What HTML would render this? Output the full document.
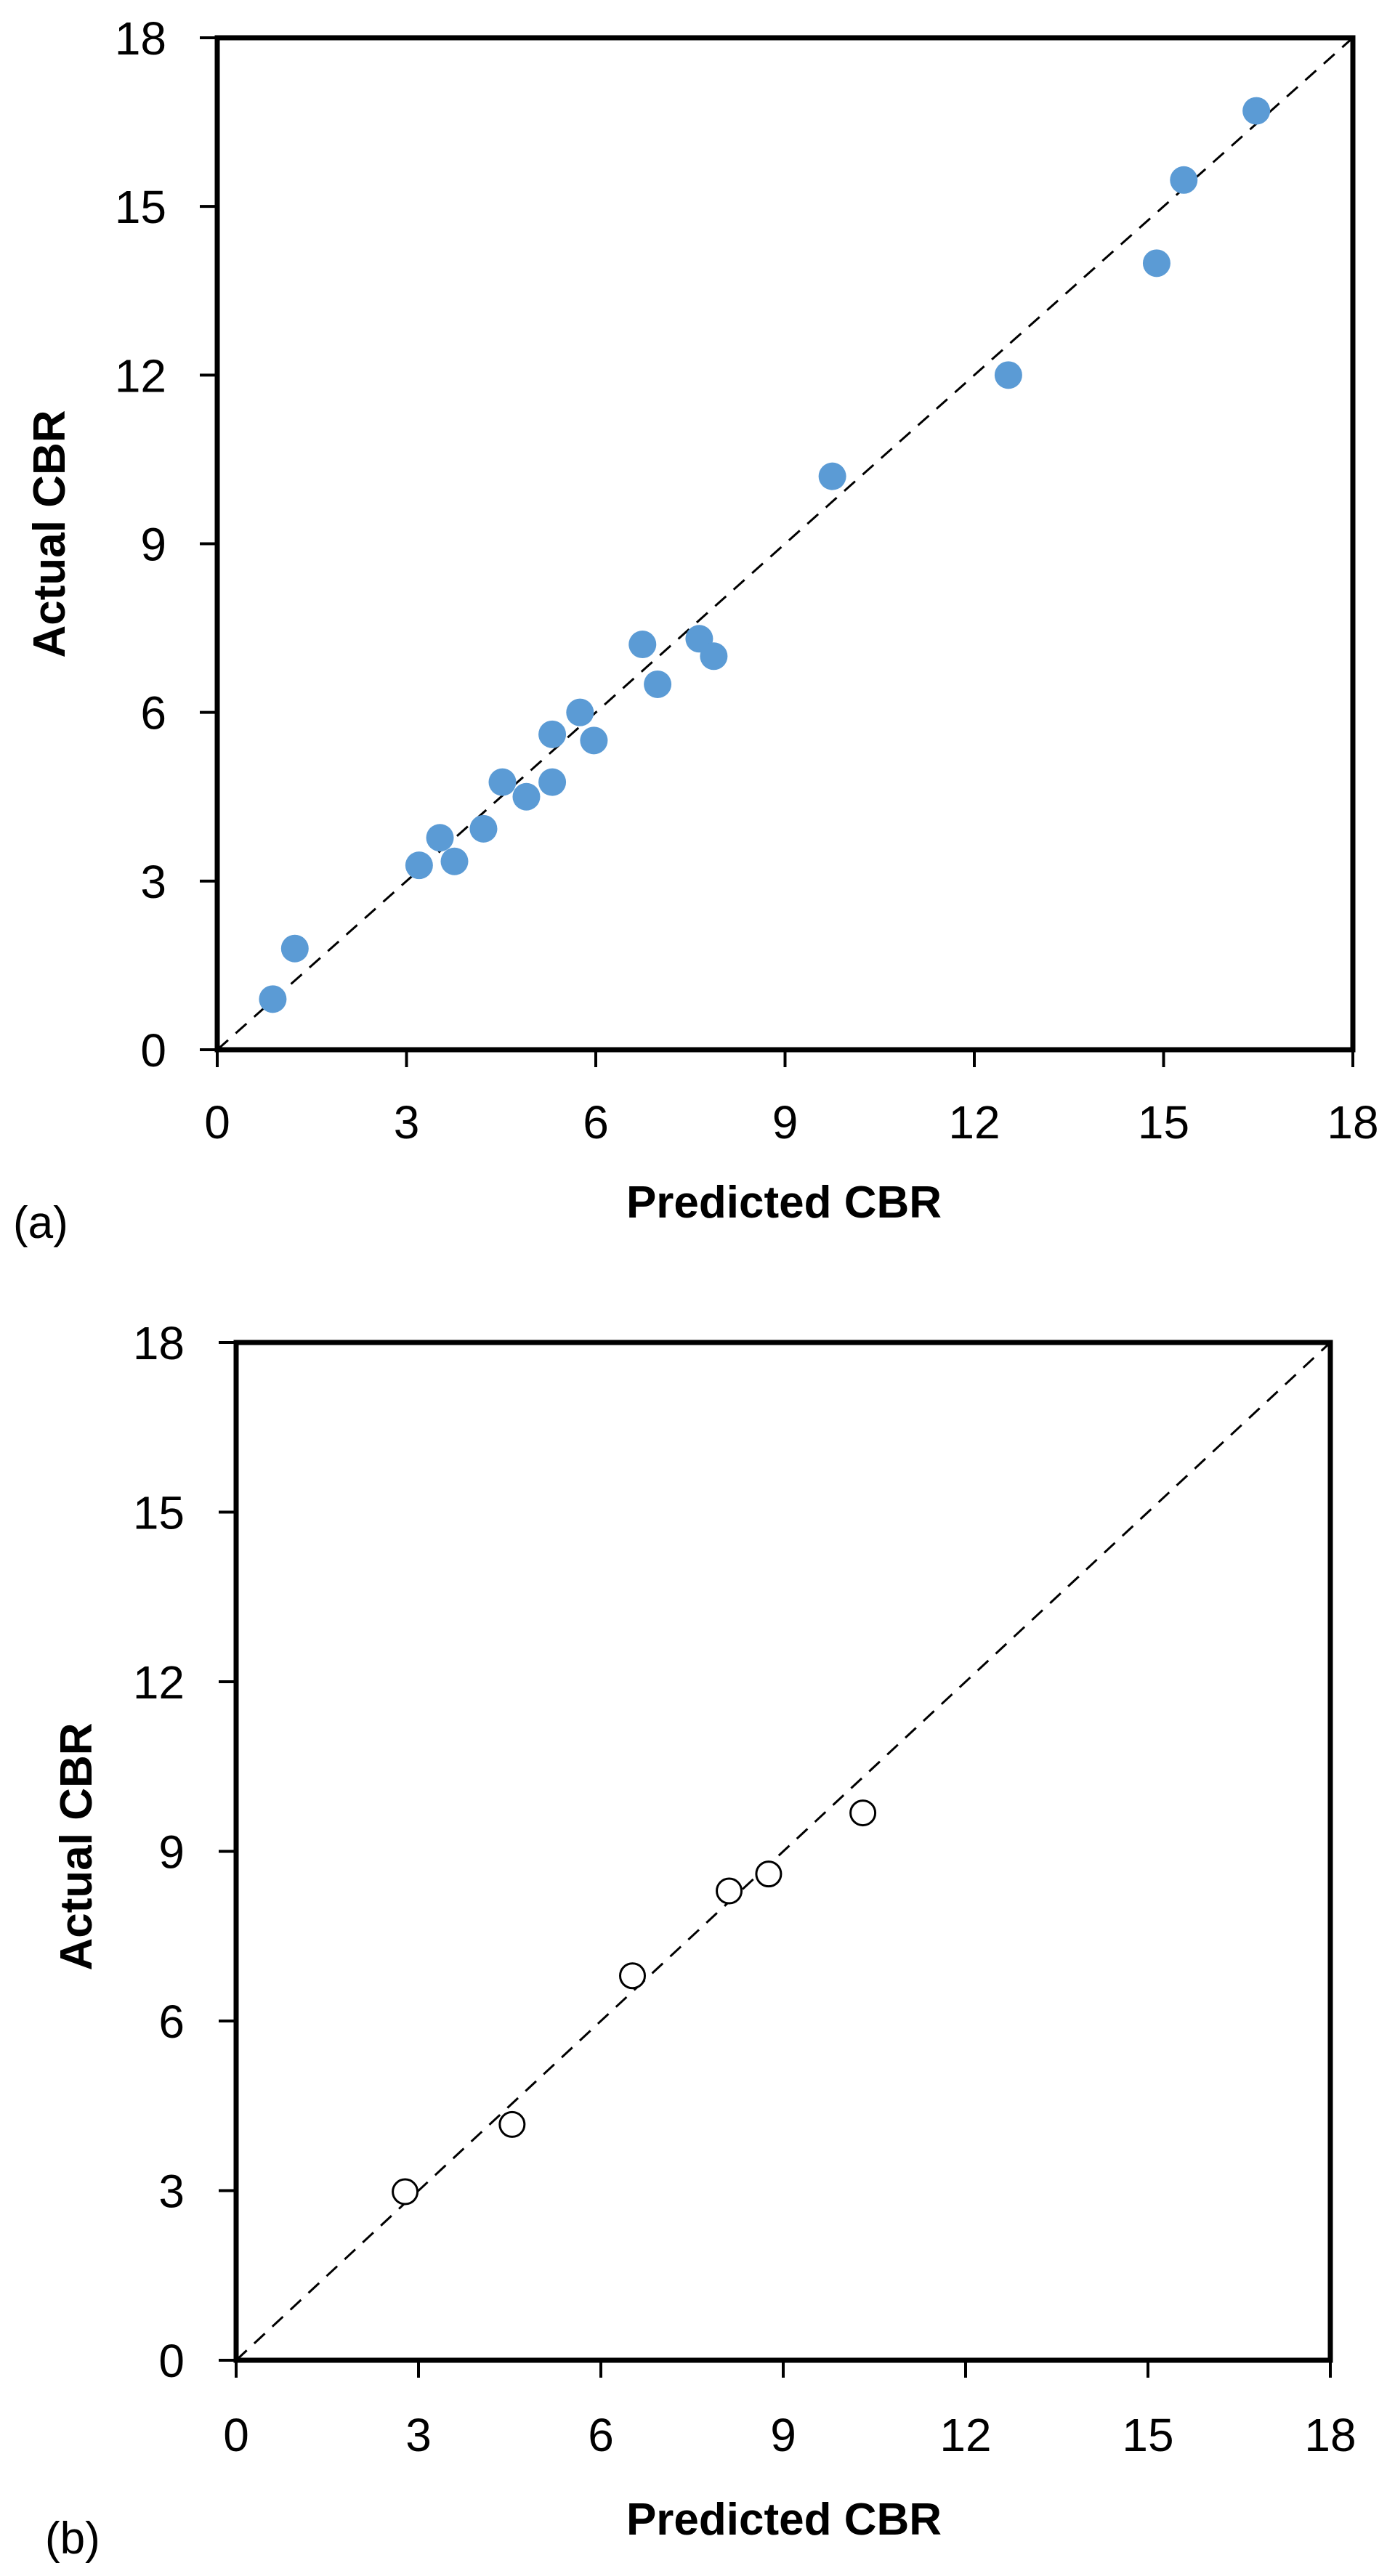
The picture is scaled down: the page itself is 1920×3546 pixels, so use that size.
<!DOCTYPE html>
<html><head><meta charset="utf-8"><style>
html,body{margin:0;padding:0;background:#fff;}
svg{display:block;}
text{font-family:"Liberation Sans",sans-serif;fill:#000;}
</style></head><body>
<svg id="fig" width="1920" height="3546" viewBox="0 0 1920 3546" xmlns="http://www.w3.org/2000/svg"></svg>
<script>
const ticks = [0,3,6,9,12,15,18];
const tickLabels = ["0","3","6","9","12","15","18"];
const predA = [0.88,1.23,3.2,3.53,3.76,4.22,4.52,4.9,5.31,5.31,5.75,5.97,6.74,6.98,7.64,7.87,9.75,12.54,14.89,15.32,16.47];
const actualA = [0.9,1.8,3.28,3.77,3.35,3.93,4.76,4.5,5.61,4.76,6.0,5.5,7.21,6.5,7.31,7.0,10.2,12.0,13.99,15.47,16.7];
const predB = [2.78,4.54,6.52,8.11,8.76,10.31];
const actualB = [2.98,4.17,6.8,8.3,8.6,9.68];

const NS="http://www.w3.org/2000/svg";
const svg=document.getElementById('fig');
function mk(tag,attrs,parent){const e=document.createElementNS(NS,tag);for(const k in attrs)e.setAttribute(k,attrs[k]);(parent||svg).appendChild(e);return e;}

function chart(cfg){
  const g=mk('g',{});
  
  
  const sx=v=>cfg.L+(cfg.R-cfg.L)*v/18;
  const sy=v=>cfg.B-(cfg.B-cfg.T)*v/18;
  // diagonal
  const d=mk('line',{x1:sx(0),y1:sy(0),x2:sx(18),y2:sy(18),stroke:'#000','stroke-width':3,'stroke-dasharray':'20,14'},g);
  
  
  // frame
  const f=mk('rect',{x:cfg.L,y:cfg.T,width:cfg.R-cfg.L,height:cfg.B-cfg.T,fill:'none',stroke:'#000','stroke-width':7},g);
  
  
  // ticks
  ticks.forEach((t,i)=>{
    const yt=mk('line',{x1:cfg.L-24,y1:sy(t),x2:cfg.L,y2:sy(t),stroke:'#000','stroke-width':4},g);
    
    
    const xt=mk('line',{x1:sx(t),y1:cfg.B,x2:sx(t),y2:cfg.B+24,stroke:'#000','stroke-width':4},g);
    
    
    const yl=mk('text',{x:cfg.yLabR,y:sy(t)+23,'text-anchor':'end','font-size':64},g);
    yl.textContent=tickLabels[i];
    
    
    const xl=mk('text',{x:sx(t),y:cfg.xLabY+23,'text-anchor':'middle','font-size':64},g);
    xl.textContent=tickLabels[i];
    
    
  });
  // points
  cfg.px.forEach((v,i)=>{
    const c=mk('circle',{cx:sx(v),cy:sy(cfg.py[i]),r:cfg.open?17:19,fill:cfg.open?'#fff':'#5b9bd5',stroke:cfg.open?'#000':'none','stroke-width':3},g);
    
    
  });
  const xt=mk('text',{x:1079,y:cfg.xTitleY+23,'text-anchor':'middle','font-size':62,'font-weight':'bold'},g);
  xt.textContent='Predicted CBR';
  
  
  const yt=mk('text',{x:0,y:0,'text-anchor':'middle','font-size':62,'font-weight':'bold',transform:`translate(${cfg.yTitleX+22},${cfg.yTitleY}) rotate(-90)`},g);
  yt.textContent='Actual CBR';
  
  
  const pl=mk('text',{x:cfg.panelX,y:cfg.panelY+22,'font-size':62},g);
  pl.textContent=cfg.panel;
  
  
}
chart({name:'chart-a',L:299,R:1862,T:52,B:1445,yLabR:229,xLabY:1544,xTitleY:1653,yTitleX:67,yTitleY:735,panel:'(a)',panelX:18,panelY:1682,px:predA,py:actualA,open:false});
chart({name:'chart-b',L:325,R:1831,T:1848,B:3249,yLabR:254,xLabY:3351,xTitleY:3466,yTitleX:104,yTitleY:2542,panel:'(b)',panelX:62,panelY:3493,px:predB,py:actualB,open:true});
</script>
</body></html>
